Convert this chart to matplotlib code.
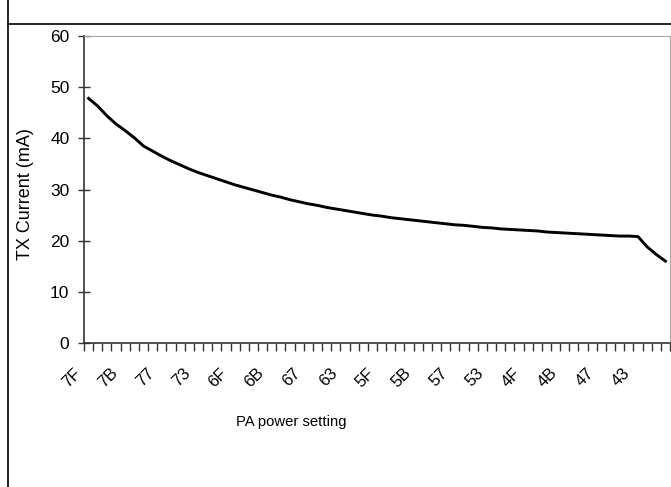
import numpy as np
import matplotlib
matplotlib.use('Agg')
from matplotlib import pyplot as plt
from matplotlib.lines import Line2D
import matplotlib.transforms as mtransforms

plt.rcParams['font.family'] = ['Liberation Sans', 'DejaVu Sans']

# PA power settings 0x7F down to 0x40
settings = ['%X' % v for v in range(0x7F, 0x3F, -1)]
tx_current = [47.8, 46.3, 44.4, 42.8, 41.5, 40.1, 38.5, 37.5, 36.5, 35.6,
              34.8, 34.0, 33.3, 32.7, 32.1, 31.5, 30.9, 30.4, 29.9, 29.4,
              28.9, 28.5, 28.0, 27.6, 27.2, 26.9, 26.5, 26.2, 25.9, 25.6,
              25.3, 25.0, 24.8, 24.5, 24.3, 24.1, 23.9, 23.7, 23.5, 23.3,
              23.1, 23.0, 22.8, 22.6, 22.5, 22.3, 22.2, 22.1, 22.0, 21.9,
              21.7, 21.6, 21.5, 21.4, 21.3, 21.2, 21.1, 21.0, 20.9, 20.9,
              20.8, 18.8, 17.3, 16.0]
y_ticks = [0, 10, 20, 30, 40, 50, 60]

W, H = 671, 487
fig = plt.figure(figsize=(W / 100, H / 100), dpi=100)
ax = fig.add_axes([84 / W, 1 - 343 / H, 586 / W, 307 / H])

x = np.arange(len(settings))
ax.plot(x, tx_current, color='black', lw=2.1, solid_joinstyle='round')

ax.set_xlim(-0.5, len(settings) - 0.5)
ax.set_ylim(0, 60)
ax.set_yticks(y_ticks)
ax.set_yticklabels([str(v) for v in y_ticks], fontsize=12.5)

# labels on every 4th category, tick marks between categories
ax.set_xticks(x[::4])
ax.set_xticklabels(settings[::4], rotation=45, ha='right', va='center',
                   rotation_mode='anchor', fontsize=12)
ax.set_xticks(np.arange(len(settings) + 1) - 0.5, minor=True)
ax.tick_params(axis='x', which='major', length=0, pad=20)
ax.tick_params(axis='x', which='minor', length=6, width=1, color='#333333',
               direction='out')
ax.tick_params(axis='y', which='major', length=9, width=1, color='#333333',
               direction='inout', pad=6)
offset = mtransforms.ScaledTranslation(-10 / 100, 0, fig.dpi_scale_trans)
for lab in ax.get_xticklabels():
    lab.set_transform(lab.get_transform() + offset)

for side in ['top', 'right']:
    ax.spines[side].set_color('#a6a6a6')
for side in ['left', 'bottom']:
    ax.spines[side].set_color('#333333')
    ax.spines[side].set_linewidth(1.2)

fig.text(291 / W, 1 - 422 / H, 'PA power setting', fontsize=10.7,
         ha='center', va='center')
fig.text(25 / W, 1 - 194 / H, 'TX Current (mA)', fontsize=13,
         rotation=90, ha='center', va='center')

# outer chart frame, only part of it is in view
fig.add_artist(Line2D([7.5 / W, 7.5 / W], [0, 1], color='black', lw=1.2))
fig.add_artist(Line2D([7.5 / W, 1], [1 - 23.5 / H, 1 - 23.5 / H],
                      color='black', lw=1.2))

fig.savefig('out.png', dpi=100)
